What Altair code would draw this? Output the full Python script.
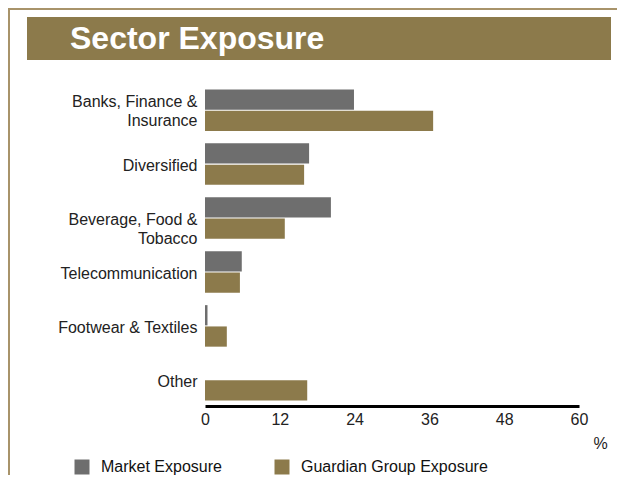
import altair as alt
import pandas as pd

categories = ["Banks, Finance &\nInsurance", "Diversified", "Beverage, Food &\nTobacco",
              "Telecommunication", "Footwear & Textiles", "Other"]
market = [23.9, 16.7, 20.2, 5.9, 0.4, 0.0]
guardian = [36.6, 15.9, 12.8, 5.6, 3.5, 16.4]
series = ["Market Exposure", "Guardian Group Exposure"]
colors = ["#6E6E6E", "#8C7A4B"]
x_ticks = [0, 12, 24, 36, 48, 60]
title_text = "Sector Exposure"

rows = []
for c, m, g in zip(categories, market, guardian):
    rows.append({"sector": c, "series": series[0], "value": m})
    rows.append({"sector": c, "series": series[1], "value": g})
df = pd.DataFrame(rows)

FONT = "Liberation Sans"
FS = 16

bars = alt.Chart(df).mark_bar().encode(
    y=alt.Y("sector:N", sort=categories,
            scale=alt.Scale(paddingInner=0.23, paddingOuter=0.1),
            axis=alt.Axis(title=None, domain=False, ticks=False, labelPadding=8,
                          labelFontSize=FS, labelColor="#222222", labelFont=FONT,
                          labelLineHeight=19, labelLimit=220,
                          labelOffset={"condition": {"test": "indexof(datum.value, 'Banks') >= 0",
                                                     "value": -8},
                                       "value": 2},
                          labelExpr="split(datum.label, '\\n')")),
    yOffset=alt.YOffset("series:N", sort=series, scale=alt.Scale(paddingInner=0.05)),
    x=alt.X("value:Q", scale=alt.Scale(domain=[0, 60], nice=False),
            axis=alt.Axis(values=x_ticks, title="%", grid=False, ticks=False,
                          domainColor="#000000", domainWidth=3,
                          labelFontSize=FS, labelColor="#222222", labelFont=FONT,
                          labelPadding=5, labelFlush=False,
                          titleX=395, titleY=37, titleFontSize=FS,
                          titleFontWeight="normal", titleFont=FONT,
                          titleColor="#222222", titleBaseline="middle",
                          titleAlign="center")),
    color=alt.Color("series:N", sort=series,
                    scale=alt.Scale(domain=series, range=colors),
                    legend=alt.Legend(title=None, orient="none", direction="horizontal",
                                      legendX=-131, legendY=375,
                                      symbolType="square", symbolSize=225,
                                      symbolStrokeWidth=0, symbolOpacity=1,
                                      labelFontSize=FS, labelFont=FONT,
                                      labelColor="#111111", labelOffset=11,
                                      labelLimit=300,
                                      columnPadding=52, padding=0)),
)

tdf = pd.DataFrame({"t": [title_text]})
banner = alt.Chart(tdf).mark_rect(color="#8C7A4B").encode(
    x=alt.value(-178), x2=alt.value(406), y=alt.value(-67), y2=alt.value(-24))
title = alt.Chart(tdf).mark_text(color="white", fontSize=32, fontWeight="bold",
                                  font=FONT, align="left", baseline="middle").encode(
    x=alt.value(-135), y=alt.value(-45), text="t:N")
frame_top = alt.Chart(tdf).mark_rule(color="#A8936A", strokeWidth=2).encode(
    x=alt.value(-197), x2=alt.value(440), y=alt.value(-75))
frame_left = alt.Chart(tdf).mark_rule(color="#A8936A", strokeWidth=2).encode(
    x=alt.value(-196), y=alt.value(-76), y2=alt.value(395))

chart = alt.layer(frame_top, frame_left, banner, title, bars).properties(
    width=374, height=322,
    autosize=alt.AutoSizeParams(type="none"),
    padding={"left": 197, "top": 76, "right": 38, "bottom": 69},
).configure(background="white").configure_view(stroke=None, strokeWidth=0)

chart.save("out.html", embed_options={"renderer": "svg", "actions": False})
